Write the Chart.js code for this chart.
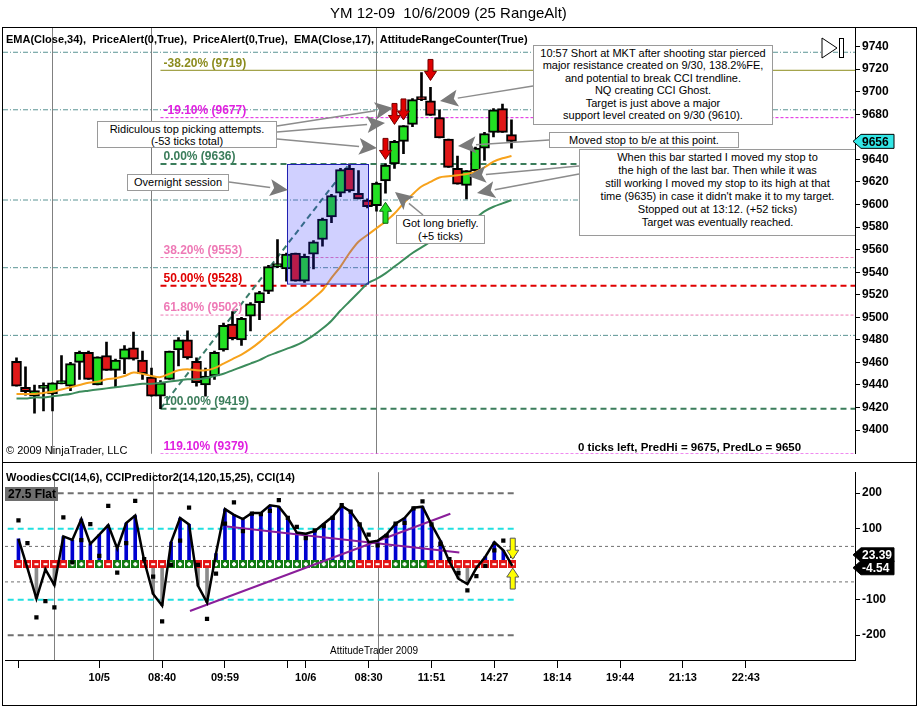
<!DOCTYPE html>
<html>
<head>
<meta charset="utf-8">
<title>YM 12-09 10/6/2009 (25 RangeAlt)</title>
<script src="https://cdn.jsdelivr.net/npm/chart.js@4.4.0/dist/chart.umd.min.js"></script>
<style>
  body { margin: 0; background: #fff; width: 919px; height: 708px; overflow: hidden;
         font-family: "Liberation Sans", Arial, sans-serif; color: #000; }
  .abs { position: absolute; }
  #frame { left: 2px; top: 27px; width: 913px; height: 677px; border: 1px solid #000; }
  #split { left: 2px; top: 462px; width: 915px; height: 1px; background: #000; }
  #pricebox { left: 0; top: 0; width: 919px; height: 463px; }
  #ccibox { left: 0; top: 463px; width: 919px; height: 245px; }
  #title { left: 330px; top: 4px; font-size: 15px; white-space: pre; }
  .hdr { font-size: 11px; font-weight: bold; white-space: pre; }
  .note { background: #fff; border: 1px solid #9a9a9a; font-size: 11px; text-align: center;
          box-sizing: border-box; white-space: pre; }
</style>
</head>
<body>
<div id="frame" class="abs"></div>
<div id="pricebox" class="abs"><canvas id="price"></canvas></div>
<div id="ccibox" class="abs"><canvas id="cci"></canvas></div>
<div id="split" class="abs"></div>

<div id="title" class="abs">YM 12-09  10/6/2009 (25 RangeAlt)</div>
<div class="abs hdr" style="left:6px;top:33px;">EMA(Close,34),  PriceAlert(0,True),  PriceAlert(0,True),  EMA(Close,17),  AttitudeRangeCounter(True)</div>
<div class="abs hdr" style="left:6px;top:471px;">WoodiesCCI(14,6), CCIPredictor2(14,120,15,25), CCI(14)</div>
<div class="abs" style="left:5px;top:487px;width:53px;height:14px;background:#6e6e6e;font-size:12px;font-weight:bold;line-height:14px;padding-left:3px;box-sizing:border-box;">27.5 Flat</div>
<div class="abs" style="left:6px;top:444px;font-size:11px;">© 2009 NinjaTrader, LLC</div>
<div class="abs" style="left:578px;top:441px;font-size:11.5px;font-weight:bold;white-space:pre;">0 ticks left, PredHi = 9675, PredLo = 9650</div>
<div class="abs" style="left:330px;top:645px;font-size:10px;">AttitudeTrader 2009</div>

<div class="abs note" style="left:533px;top:45px;width:240px;height:80px;line-height:12.4px;padding-top:1px;">10:57 Short at MKT after shooting star pierced
major resistance created on 9/30, 138.2%FE,
and potential to break CCI trendline.
NQ creating CCI Ghost.
Target is just above a major
support level created on 9/30 (9610).</div>
<div class="abs note" style="left:97px;top:121px;width:180px;height:27px;line-height:12px;padding-top:1px;">Ridiculous top picking attempts.
(-53 ticks total)</div>
<div class="abs note" style="left:127px;top:174px;width:102px;height:17px;line-height:15px;">Overnight session</div>
<div class="abs note" style="left:549px;top:132px;width:190px;height:16px;line-height:14px;">Moved stop to b/e at this point.</div>
<div class="abs note" style="left:579px;top:149px;width:276px;height:87px;line-height:13px;padding-top:1px;border-right:none;">When this bar started I moved my stop to
the high of the last bar. Then while it was
still working I moved my stop to its high at that
time (9635) in case it didn't make it to my target.
Stopped out at 13:12. (+52 ticks)
Target was eventually reached.</div>
<div class="abs note" style="left:396px;top:215px;width:89px;height:29px;line-height:12.5px;padding-top:1px;">Got long briefly.
(+5 ticks)</div>

<svg class="abs" style="left:821px;top:37px;" width="24" height="22">
  <polygon points="1,1 16,11 1,21" fill="#fff" stroke="#000" stroke-width="1"/>
  <rect x="18.5" y="1.5" width="4" height="19" fill="#fff" stroke="#000" stroke-width="1"/>
</svg>

<script>
// ---- price bars (25 range), one entry per bar ----
const candleOpen  = [9461, 9438, 9430, 9437, 9432, 9441, 9439, 9460, 9469, 9440,
                     9466, 9453, 9463, 9473, 9462, 9447, 9430, 9445, 9471, 9480,
                     9461, 9440, 9448, 9471, 9494, 9480, 9501, 9513, 9523, 9545,
                     9543, 9557, 9532, 9556, 9569, 9589, 9610, 9632, 9610, 9604,
                     9599, 9621, 9636, 9656, 9671, 9694, 9692, 9677, 9658, 9632,
                     9617, 9630, 9650, 9664, 9685, 9662];
const candleHigh  = [9464, 9456, 9440, 9442, 9442, 9466, 9460, 9470, 9470, 9465,
                     9478, 9463, 9475, 9487, 9470, 9455, 9444, 9470, 9482, 9488,
                     9464, 9455, 9470, 9495, 9505, 9500, 9513, 9523, 9546, 9569,
                     9557, 9557, 9556, 9568, 9588, 9609, 9632, 9636, 9630, 9605,
                     9620, 9636, 9657, 9670, 9694, 9717, 9704, 9684, 9658, 9643,
                     9630, 9651, 9664, 9685, 9689, 9675];
const candleLow   = [9439, 9431, 9415, 9417, 9417, 9441, 9435, 9445, 9445, 9440,
                     9453, 9438, 9450, 9462, 9445, 9430, 9419, 9445, 9457, 9463,
                     9439, 9430, 9445, 9470, 9480, 9475, 9488, 9498, 9521, 9544,
                     9532, 9532, 9531, 9543, 9563, 9584, 9607, 9611, 9605, 9597,
                     9594, 9610, 9632, 9645, 9669, 9692, 9679, 9659, 9633, 9618,
                     9605, 9626, 9639, 9660, 9664, 9650];
const candleClose = [9439, 9434, 9435, 9438, 9442, 9444, 9459, 9469, 9445, 9465,
                     9453, 9462, 9472, 9463, 9450, 9430, 9442, 9470, 9480, 9464,
                     9442, 9448, 9469, 9493, 9481, 9499, 9512, 9522, 9545, 9546,
                     9556, 9532, 9554, 9567, 9587, 9608, 9631, 9612, 9605, 9598,
                     9619, 9635, 9656, 9670, 9693, 9693, 9679, 9659, 9633, 9618,
                     9630, 9650, 9663, 9684, 9664, 9656];
const ema17 = [9432, 9432, 9432, 9433, 9434, 9436, 9438, 9440, 9442, 9443,
               9445, 9446, 9448, 9451, 9450, 9448, 9447, 9450, 9453, 9454,
               9453, 9453, 9455, 9459, 9463, 9467, 9472, 9478, 9485, 9491,
               9498, 9504, 9510, 9517, 9524, 9535, 9545, 9557, 9567, 9573,
               9579, 9585, 9592, 9601, 9609, 9616, 9620, 9624, 9625, 9626,
               9627, 9629, 9633, 9638, 9641, 9643];
const ema34 = [9428, 9428, 9429, 9429, 9430, 9431, 9432, 9434, 9435, 9436,
               9437, 9438, 9439, 9440, 9441, 9441, 9442, 9443, 9444, 9445,
               9445, 9446, 9448, 9450, 9453, 9456, 9459, 9462, 9466, 9469,
               9472, 9475, 9479, 9484, 9490, 9497, 9506, 9514, 9522, 9530,
               9534, 9539, 9545, 9551, 9557, 9562, 9567, 9572, 9576, 9580,
               9584, 9588, 9594, 9598, 9601, 9604];

// ---- levels ----
const fibLevels = [9719, 9677, 9636, 9553, 9528, 9502, 9419, 9379];
const fibLabels = ['-38.20% (9719)', '-19.10% (9677)', '0.00% (9636)', '38.20% (9553)',
                   '50.00% (9528)', '61.80% (9502)', '100.00% (9419)', '119.10% (9379)'];
const fibStart = 16;              // bar of the swing low
const fibSwing = [[16, 9419], [37, 9636]];
const pivotLevels = [9735, 9684, 9604, 9544, 9484];
const overnightBox = {from: 30.05, to: 39.05, top: 9636, bottom: 9530};
const lastPrice = 9656;
const shortArrowBars = [41, 42, 43, 46];
const shortArrowTips = [9640, 9671, 9675, 9710];
const longArrowBars = [41];
const longArrowTips = [9602];
const priceTicks = [9400, 9420, 9440, 9460, 9480, 9500, 9520, 9540, 9560, 9580,
                    9600, 9620, 9640, 9680, 9700, 9720, 9740];

// ---- CCI panel ----
const cci14 = [71, -11, -97, -15, -59, 78, 68, 127, 57, 83,
               110, 44, 116, 137, 10, -84, -117, 62, 130, 112,
               -61, -108, 30, 155, 139, 127, 144, 144, 166, 162,
               130, 89, 86, 93, 114, 134, 164, 148, 112, 62,
               66, 84, 114, 130, 159, 162, 112, 66, 7, -41,
               -56, -11, 21, 62, 39, -4.54];
const cciTurbo = [123, 59, -150, -104, -122, 132, 5, 68, 113, 23,
                  164, -24, 59, 178, 14, -35, -161, -2, 66, 159,
                  -2, -154, -27, 114, 174, 93, 142, 141, 150, 180,
                  130, 105, 73, 95, 107, 130, 166, 148, 112, 83,
                  53, 80, 114, 116, 157, 177, 112, 57, 14, -25,
                  -74, -34, -5, 39, 66, 23.39];
const zeroLineTrend = ['-', '-', '-', '-', '-', '-', '+', '+', '-', '+',
                       '-', '+', '+', '+', '-', '-', '-', '+', '+', '+',
                       '-', '-', '+', '+', '+', '+', '+', '+', '+', '+',
                       '+', '+', '+', '+', '+', '+', '+', '+', '-', '-',
                       '-', '-', '+', '+', '+', '+', '-', '-', '-', '-',
                       '-', '-', '-', '-', '-', '-'];
const cciTrendUp = [[19.1, -132], [48.1, 142]];
const cciTrendDown = [[23.2, 106], [49.1, 33]];
const cciLevelsShort = [200, 100, -100, -200];
const cciLevelsFull = [50, -50];
const cciTicks = [-200, -100, 100, 200];
const cciArrowBar = 55.05;
const cciArrowTips = [14, -11];

// ---- time axis ----
const timeTickPos = [0, 9, 16, 23, 30, 32, 39, 46, 53, 60, 67, 74, 81];
const timeTickLabels = ['', '10/5', '08:40', '09:59', '', '10/6', '08:30', '11:51', '14:27',
                        '18:14', '19:44', '21:13', '22:43'];
const sessionBreaks = [4, 15, 40];

const X_MIN = -1.5, X_MAX = 93.17;
const UP = '#22e022', DOWN = '#e01818';

Chart.defaults.font.family = '"Liberation Sans", Arial, sans-serif';
Chart.defaults.color = '#000';

const bars = candleOpen.map((_, i) => i);

function hline(v, x0, x1, color, width, dash, order) {
  return {
    type: 'line', data: [{x: x0, y: v}, {x: x1, y: v}], borderColor: color,
    borderWidth: width, borderDash: dash, pointRadius: 0, order: order,
  };
}

function drawSessionBreaks(chart) {
  const {ctx, chartArea: a, scales: {x}} = chart;
  ctx.save();
  ctx.strokeStyle = '#808080';
  ctx.lineWidth = 1;
  sessionBreaks.forEach(v => {
    const px = Math.round(x.getPixelForValue(v)) + 0.5;
    ctx.beginPath();
    ctx.moveTo(px, a.top);
    ctx.lineTo(px, a.bottom);
    ctx.stroke();
  });
  ctx.restore();
}

function signalArrow(ctx, x, tipY, down, fill, edge) {
  const len = 21, sw = 2.5, hw = 6, hl = 9;
  const tail = down ? tipY - len : tipY + len;
  const base = down ? tipY - hl : tipY + hl;
  ctx.beginPath();
  ctx.moveTo(x - sw, tail);
  ctx.lineTo(x + sw, tail);
  ctx.lineTo(x + sw, base);
  ctx.lineTo(x + hw, base);
  ctx.lineTo(x, tipY);
  ctx.lineTo(x - hw, base);
  ctx.lineTo(x - sw, base);
  ctx.closePath();
  ctx.fillStyle = fill;
  ctx.fill();
  ctx.strokeStyle = edge;
  ctx.lineWidth = 1;
  ctx.stroke();
}

function calloutArrow(ctx, x1, y1, x2, y2) {
  const ang = Math.atan2(y2 - y1, x2 - x1);
  const hl = 18, hw = 8.5;
  const bx = x2 - hl * Math.cos(ang), by = y2 - hl * Math.sin(ang);
  ctx.strokeStyle = '#8c8c8c';
  ctx.lineWidth = 1.5;
  ctx.beginPath();
  ctx.moveTo(x1, y1);
  ctx.lineTo(bx, by);
  ctx.stroke();
  ctx.fillStyle = '#7a7a7a';
  ctx.beginPath();
  ctx.moveTo(x2, y2);
  ctx.lineTo(bx + hw * Math.sin(ang), by - hw * Math.cos(ang));
  ctx.lineTo(bx + 4 * Math.cos(ang), by + 4 * Math.sin(ang));
  ctx.lineTo(bx - hw * Math.sin(ang), by + hw * Math.cos(ang));
  ctx.closePath();
  ctx.fill();
}

function valueTag(ctx, x, y, text, fill, textColor) {
  ctx.beginPath();
  ctx.moveTo(x - 2, y);
  ctx.lineTo(x + 6, y - 7);
  ctx.lineTo(x + 39, y - 7);
  ctx.lineTo(x + 39, y + 7);
  ctx.lineTo(x + 6, y + 7);
  ctx.closePath();
  ctx.fillStyle = fill;
  ctx.fill();
  ctx.strokeStyle = '#000';
  ctx.lineWidth = 1;
  ctx.stroke();
  ctx.fillStyle = textColor;
  ctx.font = 'bold 12px "Liberation Sans", Arial, sans-serif';
  ctx.textBaseline = 'middle';
  ctx.textAlign = 'left';
  ctx.fillText(text, x + 7, y + 1);
}

// callout leader lines for the text notes (page pixels)
const callouts = [
  [533, 86, 440, 101],
  [277, 126, 393, 108],
  [277, 132, 385, 123],
  [277, 139, 377, 148],
  [229, 182, 288, 190],
  [549, 140, 458, 146],
  [579, 166, 468, 176],
  [579, 174, 477, 193],
  [423, 215, 395, 192],
];

const fibStyles = [
  {color: '#8c8c1e', width: 1, dash: []},
  {color: '#e020e0', width: 1, dash: [3, 2]},
  {color: '#3b7d5b', width: 2, dash: [6, 4]},
  {color: '#ee7ab6', width: 1, dash: [3, 2]},
  {color: '#e00000', width: 2, dash: [6, 4]},
  {color: '#ee7ab6', width: 1, dash: [3, 2]},
  {color: '#3b7d5b', width: 2, dash: [6, 4]},
  {color: '#e020e0', width: 1, dash: [3, 2]},
];

const priceOverlay = {
  id: 'priceOverlay',
  beforeDatasetsDraw(chart) {
    drawSessionBreaks(chart);
  },
  afterDatasetsDraw(chart) {
    const {ctx, chartArea: a, scales: {x, y}} = chart;
    ctx.save();
    ctx.beginPath();
    ctx.rect(a.left, a.top, a.right - a.left, a.bottom - a.top);
    ctx.clip();

    // overnight session box
    const bx0 = x.getPixelForValue(overnightBox.from), bx1 = x.getPixelForValue(overnightBox.to);
    const by0 = y.getPixelForValue(overnightBox.top), by1 = y.getPixelForValue(overnightBox.bottom);
    ctx.fillStyle = 'rgba(40, 40, 255, 0.22)';
    ctx.fillRect(bx0, by0, bx1 - bx0, by1 - by0);
    ctx.strokeStyle = '#2020b0';
    ctx.lineWidth = 1;
    ctx.strokeRect(Math.round(bx0) + 0.5, Math.round(by0) + 0.5, bx1 - bx0, by1 - by0);

    // fib labels
    ctx.font = 'bold 12px "Liberation Sans", Arial, sans-serif';
    ctx.textBaseline = 'bottom';
    ctx.textAlign = 'left';
    fibLevels.forEach((v, i) => {
      ctx.fillStyle = fibStyles[i].color;
      ctx.fillText(fibLabels[i], x.getPixelForValue(fibStart) + 3, y.getPixelForValue(v) - 1);
    });

    // trade signal arrows
    shortArrowBars.forEach((b, i) => {
      signalArrow(ctx, x.getPixelForValue(b), y.getPixelForValue(shortArrowTips[i]), true, '#e00000', '#700000');
    });
    longArrowBars.forEach((b, i) => {
      signalArrow(ctx, x.getPixelForValue(b), y.getPixelForValue(longArrowTips[i]), false, '#22e022', '#106010');
    });

    callouts.forEach(c => calloutArrow(ctx, c[0], c[1], c[2], c[3]));
    ctx.restore();
  },
  afterDraw(chart) {
    const {ctx, chartArea: a, scales: {y}} = chart;
    ctx.save();
    valueTag(ctx, a.right, y.getPixelForValue(lastPrice), String(lastPrice), '#33e6e6', '#000');
    ctx.restore();
  },
};

const priceDatasets = [
  ...pivotLevels.map(v => hline(v, X_MIN, X_MAX, '#5a9494', 1, [5, 2, 1, 2], 20)),
  ...fibLevels.map((v, i) => hline(v, fibStart, X_MAX, fibStyles[i].color, fibStyles[i].width, fibStyles[i].dash, 19)),
  {
    type: 'line', data: fibSwing.map(p => ({x: p[0], y: p[1]})), borderColor: '#3b7d6b',
    borderWidth: 2, borderDash: [6, 4], pointRadius: 0, order: 18,
  },
  {
    type: 'bar', data: bars.map(i => ({x: i, y: [candleLow[i], candleHigh[i]]})),
    backgroundColor: '#000', barThickness: 2, grouped: false, order: 12,
  },
  {
    type: 'bar', data: bars.map(i => ({x: i, y: [candleOpen[i], candleClose[i]]})),
    backgroundColor: bars.map(i => candleClose[i] >= candleOpen[i] ? UP : DOWN),
    borderColor: '#000', borderWidth: 2, borderSkipped: false, minBarLength: 3,
    barThickness: 10, grouped: false, order: 11,
  },
  {
    type: 'line', data: bars.map(i => ({x: i, y: ema34[i]})), borderColor: '#3c8c5c',
    borderWidth: 2, pointRadius: 0, tension: 0.3, order: 2,
  },
  {
    type: 'line', data: bars.map(i => ({x: i, y: ema17[i]})), borderColor: '#f7a21b',
    borderWidth: 2, pointRadius: 0, tension: 0.3, order: 1,
  },
];

new Chart(document.getElementById('price'), {
  type: 'bar',
  data: {datasets: priceDatasets},
  options: {
    responsive: true,
    maintainAspectRatio: false,
    animation: false,
    devicePixelRatio: 1,
    layout: {padding: {left: 3, top: 28, right: 0, bottom: 1}},
    plugins: {legend: {display: false}, tooltip: {enabled: false}},
    scales: {
      x: {type: 'linear', min: X_MIN, max: X_MAX, offset: false, display: false},
      y: {
        position: 'right', min: 9379, max: 9756.5,
        afterFit(s) { s.width = 64; },
        afterBuildTicks(s) { s.ticks = priceTicks.map(v => ({value: v})); },
        ticks: {callback: v => String(v), color: '#000', font: {weight: 'bold', size: 12}, padding: 2},
        grid: {drawOnChartArea: false, tickLength: 5, color: '#000'},
        border: {color: '#000'},
      },
    },
  },
  plugins: [priceOverlay],
});

// zero-line trend markers
function makeMarker(fill, plus) {
  const c = document.createElement('canvas');
  c.width = 8;
  c.height = 8;
  const g = c.getContext('2d');
  g.fillStyle = fill;
  g.fillRect(0, 0, 8, 8);
  g.fillStyle = '#fff';
  g.fillRect(2, 3, 4, 2);
  if (plus) g.fillRect(3, 2, 2, 4);
  return c;
}
const markerImgs = {'+': makeMarker('#127a12', true), '-': makeMarker('#e41616', false)};

const cciOverlay = {
  id: 'cciOverlay',
  beforeDatasetsDraw(chart) {
    drawSessionBreaks(chart);
  },
  afterDatasetsDraw(chart) {
    const {ctx, scales: {x, y}} = chart;
    ctx.save();
    const ax = x.getPixelForValue(cciArrowBar);
    signalArrow(ctx, ax, y.getPixelForValue(cciArrowTips[0]), true, '#ffff00', '#555');
    signalArrow(ctx, ax, y.getPixelForValue(cciArrowTips[1]), false, '#ffff00', '#555');
    ctx.restore();
  },
  afterDraw(chart) {
    const {ctx, chartArea: a, scales: {y}} = chart;
    ctx.save();
    const last = cciTurbo.length - 1;
    valueTag(ctx, a.right, y.getPixelForValue(cciTurbo[last]) - 1, cciTurbo[last].toFixed(2), '#000', '#fff');
    valueTag(ctx, a.right, y.getPixelForValue(cci14[last]) + 2, cci14[last].toFixed(2), '#000', '#fff');
    ctx.restore();
  },
};

const cciDatasets = [
  ...cciLevelsFull.map(v => hline(v, X_MIN, X_MAX, '#707070', 1, [3, 3], 20)),
  ...cciLevelsShort.map(v => hline(v, -1.2, 55.5, Math.abs(v) === 100 ? '#22e0e0' : '#707070', 2, [6, 4], 19)),
  {
    type: 'bar', data: bars.map(i => ({x: i, y: [0, cci14[i]]})),
    backgroundColor: bars.map(i => cci14[i] >= 0 ? '#0000d0' : '#8c8c8c'),
    barThickness: 3, grouped: false, order: 10,
  },
  {
    type: 'line', data: bars.map(i => ({x: i, y: 0})), showLine: false,
    pointStyle: c => markerImgs[zeroLineTrend[c.dataIndex]], pointRadius: 4, order: 9,
  },
  {
    type: 'line', data: cciTrendUp.map(p => ({x: p[0], y: p[1]})), borderColor: '#8a1e9a',
    borderWidth: 2, pointRadius: 0, order: 5,
  },
  {
    type: 'line', data: cciTrendDown.map(p => ({x: p[0], y: p[1]})), borderColor: '#8a1e9a',
    borderWidth: 2, pointRadius: 0, order: 5,
  },
  {
    type: 'line', data: bars.map(i => ({x: i, y: cci14[i]})), borderColor: '#000',
    borderWidth: 2.5, pointRadius: 0, order: 2,
  },
  {
    type: 'line', data: bars.map(i => ({x: i, y: cciTurbo[i]})), showLine: false,
    pointStyle: 'rect', pointRadius: 3, backgroundColor: '#000', borderColor: '#000',
    borderWidth: 0, order: 1,
  },
];

new Chart(document.getElementById('cci'), {
  type: 'bar',
  data: {datasets: cciDatasets},
  options: {
    responsive: true,
    maintainAspectRatio: false,
    animation: false,
    devicePixelRatio: 1,
    layout: {padding: {left: 3, top: 3, right: 0, bottom: 19}},
    plugins: {legend: {display: false}, tooltip: {enabled: false}},
    scales: {
      x: {
        type: 'linear', min: X_MIN, max: X_MAX, offset: false,
        afterFit(s) { s.height = 29; },
        afterBuildTicks(s) { s.ticks = timeTickPos.map(v => ({value: v})); },
        ticks: {
          callback: (v, i) => timeTickLabels[i], color: '#000', autoSkip: false,
          maxRotation: 0, font: {weight: 'bold', size: 11}, padding: 3,
        },
        grid: {drawOnChartArea: false, offset: false, tickLength: 8, color: '#000'},
        border: {color: '#000'},
      },
      y: {
        position: 'right', min: -270, max: 259,
        afterFit(s) { s.width = 64; },
        afterBuildTicks(s) { s.ticks = cciTicks.map(v => ({value: v})); },
        ticks: {color: '#000', font: {weight: 'bold', size: 12}, padding: 2},
        grid: {drawOnChartArea: false, tickLength: 5, color: '#000'},
        border: {color: '#000'},
      },
    },
  },
  plugins: [cciOverlay],
});
</script>
</body>
</html>
